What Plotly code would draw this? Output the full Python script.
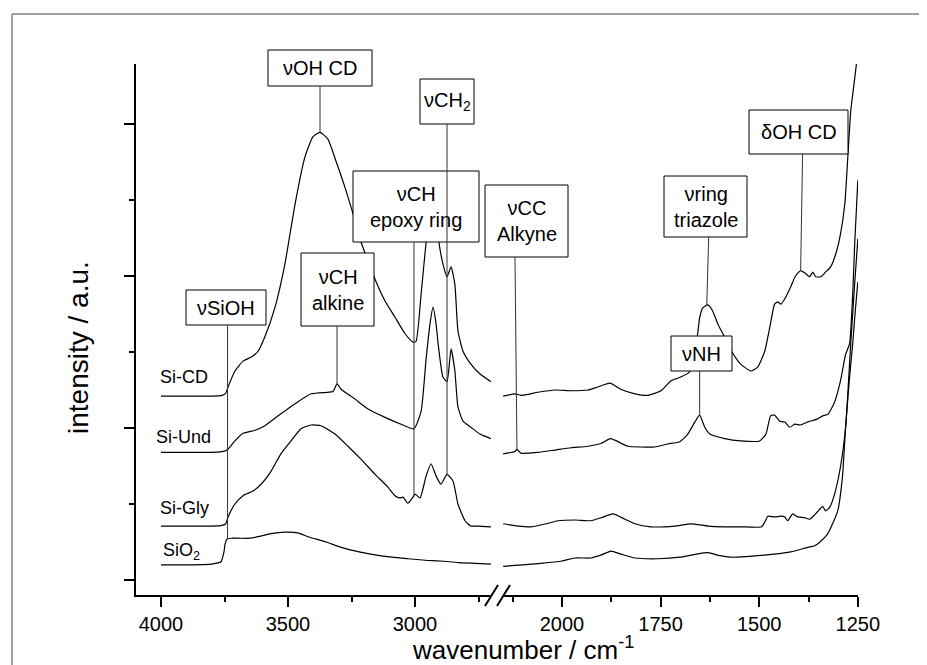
import numpy as np
import plotly.graph_objects as go

# ---------------- data ----------------
# wavenumber (cm-1) / stacked intensity (a.u.); "hi" = 4000-2700 window, "lo" = 2150-1250 window
sicd_wn_hi = [4000, 3900, 3800, 3760, 3745, 3736, 3709, 3677, 3646, 3618, 3591, 3551, 3512, 3472, 3433,
              3402, 3374, 3343, 3311, 3276, 3244, 3213, 3185, 3154, 3118, 3079, 3039, 3008, 2996, 2976,
              2957, 2941, 2929, 2917, 2906, 2890, 2874, 2858, 2843, 2831, 2811, 2780, 2744, 2701]
sicd_int_hi = [2.42, 2.42, 2.42, 2.43, 2.46, 2.54, 2.75, 2.88, 2.93, 3.01, 3.20, 3.59, 4.16, 4.95, 5.57,
               5.83, 5.89, 5.80, 5.51, 5.17, 4.82, 4.45, 4.20, 3.93, 3.67, 3.46, 3.24, 3.13, 3.14, 3.76,
               4.42, 4.85, 5.14, 4.90, 4.45, 4.16, 3.99, 4.12, 3.89, 3.28, 3.01, 2.84, 2.71, 2.61]
sicd_wn_lo = [2149, 2119, 2104, 2061, 2018, 1977, 1934, 1909, 1878, 1851, 1815, 1782, 1749, 1724, 1699,
              1676, 1656, 1651, 1643, 1630, 1618, 1605, 1592, 1570, 1547, 1521, 1504, 1486, 1473, 1461,
              1453, 1445, 1435, 1420, 1408, 1395, 1382, 1372, 1364, 1357, 1344, 1332, 1319, 1306, 1294,
              1283, 1276, 1268, 1263, 1253, 1250]
sicd_int_lo = [2.42, 2.45, 2.43, 2.47, 2.50, 2.49, 2.50, 2.54, 2.59, 2.51, 2.45, 2.43, 2.49, 2.62, 2.67,
               2.74, 3.24, 3.45, 3.58, 3.62, 3.54, 3.37, 3.24, 3.01, 2.84, 2.75, 2.80, 3.01, 3.33, 3.63,
               3.66, 3.63, 3.70, 3.86, 4.00, 4.07, 4.03, 3.99, 4.05, 3.99, 3.99, 4.05, 4.12, 4.29, 4.55,
               4.95, 5.51, 6.17, 6.39, 6.82, 7.10]

siund_wn_hi = [4000, 3900, 3800, 3760, 3745, 3736, 3709, 3677, 3630, 3591, 3539, 3472, 3409, 3343, 3323,
               3307, 3291, 3236, 3185, 3118, 3055, 3004, 2976, 2957, 2941, 2929, 2917, 2909, 2890, 2874,
               2858, 2843, 2831, 2811, 2780, 2744, 2701]
siund_int_hi = [1.68, 1.68, 1.68, 1.69, 1.70, 1.72, 1.83, 1.93, 1.97, 2.03, 2.16, 2.32, 2.45, 2.47, 2.48,
                2.58, 2.51, 2.38, 2.25, 2.14, 2.05, 1.99, 2.22, 2.88, 3.37, 3.59, 3.37, 3.11, 2.67, 2.61,
                3.04, 2.75, 2.28, 2.09, 2.01, 1.92, 1.86]
siund_wn_lo = [2149, 2119, 2114, 2104, 2061, 2018, 1977, 1934, 1900, 1878, 1866, 1833, 1800, 1765, 1732,
               1701, 1681, 1663, 1651, 1638, 1625, 1587, 1547, 1499, 1483, 1471, 1461, 1448, 1435, 1423,
               1410, 1395, 1377, 1352, 1339, 1326, 1309, 1294, 1281, 1271, 1263, 1258, 1250]
siund_int_lo = [1.66, 1.69, 1.72, 1.67, 1.68, 1.71, 1.74, 1.76, 1.80, 1.86, 1.84, 1.76, 1.75, 1.75, 1.79,
                1.82, 1.92, 2.08, 2.17, 2.01, 1.92, 1.86, 1.83, 1.83, 1.92, 2.16, 2.17, 2.09, 2.08, 2.01,
                2.05, 2.04, 2.08, 2.12, 2.16, 2.18, 2.34, 2.62, 2.97, 3.11, 3.76, 4.42, 5.26]

sigly_wn_hi = [4000, 3900, 3800, 3760, 3745, 3736, 3709, 3677, 3638, 3606, 3567, 3528, 3488, 3449, 3409,
               3370, 3315, 3264, 3213, 3157, 3106, 3079, 3059, 3047, 3028, 3008, 3000, 2980, 2957, 2937,
               2917, 2898, 2874, 2850, 2831, 2803, 2780, 2752, 2701]
sigly_int_hi = [0.71, 0.71, 0.71, 0.72, 0.74, 0.83, 1.00, 1.11, 1.17, 1.26, 1.43, 1.66, 1.83, 1.99, 2.04,
                2.03, 1.92, 1.76, 1.59, 1.39, 1.22, 1.11, 1.08, 1.09, 1.01, 1.09, 1.13, 1.08, 1.36, 1.53,
                1.37, 1.26, 1.39, 1.30, 1.00, 0.78, 0.71, 0.71, 0.70]
sigly_wn_lo = [2149, 2111, 2078, 2040, 2010, 1967, 1927, 1900, 1871, 1840, 1815, 1775, 1714, 1673, 1630,
               1587, 1547, 1494, 1486, 1478, 1461, 1445, 1435, 1428, 1415, 1402, 1385, 1372, 1359, 1347,
               1339, 1332, 1321, 1309, 1294, 1281, 1268, 1258, 1250]
sigly_int_lo = [0.74, 0.71, 0.70, 0.74, 0.78, 0.79, 0.78, 0.82, 0.87, 0.80, 0.74, 0.70, 0.71, 0.74, 0.71,
                0.70, 0.70, 0.70, 0.76, 0.84, 0.83, 0.84, 0.83, 0.78, 0.87, 0.83, 0.82, 0.80, 0.86, 0.93,
                0.97, 0.91, 0.96, 1.13, 1.49, 2.01, 3.11, 3.90, 4.49]

sio2_wn_hi = [4000, 3900, 3800, 3764, 3752, 3748, 3740, 3720, 3697, 3650, 3618, 3567, 3512, 3461, 3421,
              3350, 3291, 3220, 3157, 3090, 3028, 2960, 2898, 2830, 2764, 2701]
sio2_int_hi = [0.20, 0.20, 0.21, 0.24, 0.37, 0.47, 0.54, 0.55, 0.55, 0.55, 0.57, 0.61, 0.63, 0.62, 0.57,
               0.50, 0.43, 0.37, 0.33, 0.30, 0.28, 0.26, 0.25, 0.23, 0.22, 0.21]
sio2_wn_lo = [2149, 2100, 2053, 2000, 1967, 1927, 1900, 1876, 1850, 1815, 1757, 1700, 1660, 1630, 1600,
              1572, 1504, 1420, 1377, 1359, 1344, 1326, 1301, 1289, 1281, 1271, 1263, 1256, 1250]
sio2_int_lo = [0.18, 0.20, 0.22, 0.25, 0.29, 0.29, 0.33, 0.38, 0.34, 0.29, 0.28, 0.30, 0.34, 0.36, 0.32,
               0.30, 0.32, 0.37, 0.43, 0.45, 0.51, 0.61, 0.91, 1.36, 2.01, 2.67, 3.11, 3.57, 3.92]

sample_names = ["Si-CD", "Si-Und", "Si-Gly", "SiO<sub>2</sub>"]
sample_label_wn = [3909, 3913, 3909, 3921]
sample_label_int = [2.67, 1.88, 0.95, 0.38]

x_ticks_hi = [4000, 3500, 3000]
x_minor_hi = [3750, 3250, 2750]
x_ticks_lo = [2000, 1750, 1500, 1250]
x_minor_lo = [2125, 1875, 1625, 1375]
y_ticks = [0, 2, 4, 6]
y_minor = [1, 3, 5]

# band assignments: text, box (left, right, top, bottom in px), window, leader top wn, leader end wn, sample
bands = [
    ("νOH CD",              (260, 364, 46, 82),   "hi", 3374, 3374, "Si-CD"),
    ("νSiOH",               (178, 258, 286, 321), "hi", 3738, 3738, "SiO2"),
    ("νCH<br>alkine",       (293, 366, 249, 322), "hi", 3307, 3307, "Si-Und"),
    ("νCH<br>epoxy ring",   (345, 471, 167, 238), "hi", 3004, 3004, "Si-Gly"),
    ("νCH<sub>2</sub>",     (412, 466, 75, 120),  "hi", 2874, 2874, "Si-Gly"),
    ("νCC<br>Alkyne",       (477, 560, 181, 253), "lo", 2119, 2114, "Si-Und"),
    ("νring<br>triazole",   (656, 739, 172, 233), "lo", 1628, 1633, "Si-CD"),
    ("νNH",                 (663, 724, 332, 367), "lo", 1651, 1651, "Si-Und"),
    ("δOH CD",              (741, 840, 106, 150), "lo", 1390, 1395, "Si-CD"),
]

# ---------------- layout geometry ----------------
W, H = 927, 665
DY = -4                       # small global vertical shift of the drawing
ML, MR, MT, MB = 128, 77, 60 + DY, 74 - DY
PW, PH = W - ML - MR, H - MT - MB
FONT = "Liberation Sans, Arial, sans-serif"

ranges = {"hi": [4098.4, 2700.8], "lo": [2149.4, 1249.6]}
domains = {"hi": [0.0, 355 / PW], "lo": [367 / PW, 1.0]}
Y_RANGE = [-0.197, 6.789]

def fx(px):
    return (px - ML) / PW

def fy(py, shift=True):
    return (H - MB - (py + (DY if shift else 0))) / PH

def xpaper(wn, side):
    (r0, r1), (d0, d1) = ranges[side], domains[side]
    return d0 + (wn - r0) / (r1 - r0) * (d1 - d0)

def ypaper(v):
    return (v - Y_RANGE[0]) / (Y_RANGE[1] - Y_RANGE[0])

data = {
    "Si-CD": {"hi": (sicd_wn_hi, sicd_int_hi), "lo": (sicd_wn_lo, sicd_int_lo)},
    "Si-Und": {"hi": (siund_wn_hi, siund_int_hi), "lo": (siund_wn_lo, siund_int_lo)},
    "Si-Gly": {"hi": (sigly_wn_hi, sigly_int_hi), "lo": (sigly_wn_lo, sigly_int_lo)},
    "SiO2": {"hi": (sio2_wn_hi, sio2_int_hi), "lo": (sio2_wn_lo, sio2_int_lo)},
}

fig = go.Figure()
for name, segs in data.items():
    for side, axis in (("hi", "x"), ("lo", "x2")):
        wn, val = segs[side]
        fig.add_trace(go.Scatter(
            x=wn, y=val, xaxis=axis, yaxis="y", mode="lines", name=name,
            line=dict(color="black", width=1.2, shape="spline", smoothing=0.5),
            showlegend=False, hoverinfo="skip"))

axis_common = dict(showline=True, linecolor="black", linewidth=2, showgrid=False, zeroline=False,
                   ticks="outside", ticklen=10, tickwidth=2, tickcolor="black",
                   tickfont=dict(family=FONT, size=20, color="black"), anchor="y")
fig.update_layout(
    width=W, height=H, margin=dict(l=ML, r=MR, t=MT, b=MB),
    paper_bgcolor="white", plot_bgcolor="white", showlegend=False,
    font=dict(family=FONT, color="black"),
    xaxis=dict(domain=domains["hi"], range=ranges["hi"], tickmode="array", tickvals=x_ticks_hi,
               minor=dict(tickmode="array", tickvals=x_minor_hi, ticks="outside", ticklen=5,
                          tickwidth=2, tickcolor="black"), **axis_common),
    xaxis2=dict(domain=domains["lo"], range=ranges["lo"], tickmode="array", tickvals=x_ticks_lo,
                minor=dict(tickmode="array", tickvals=x_minor_lo, ticks="outside", ticklen=5,
                           tickwidth=2, tickcolor="black"), **axis_common),
    yaxis=dict(domain=[0, 1], range=Y_RANGE, anchor="x", showline=True, linecolor="black", linewidth=2,
               showgrid=False, zeroline=False, ticks="outside", ticklen=10, tickwidth=2,
               tickcolor="black", tickmode="array", tickvals=y_ticks, showticklabels=False,
               minor=dict(tickmode="array", tickvals=y_minor, ticks="outside", ticklen=5,
                          tickwidth=2, tickcolor="black")),
)

shapes = []
annotations = []

# band boxes, then leader lines (drawn on top)
leaders = []
for text, (bx0, bx1, by0, by1), side, wtop, wend, sample in bands:
    shapes.append(dict(type="rect", xref="paper", yref="paper", x0=fx(bx0), x1=fx(bx1),
                       y0=fy(by1), y1=fy(by0), fillcolor="white",
                       line=dict(color="black", width=1), layer="above"))
    annotations.append(dict(text=text, xref="paper", yref="paper", x=fx((bx0 + bx1) / 2),
                            y=fy((by0 + by1) / 2), xanchor="center", yanchor="middle",
                            showarrow=False, align="center",
                            font=dict(family=FONT, size=20, color="black")))
    wn, val = data[sample][side]
    vend = float(np.interp(wend, wn[::-1], val[::-1]))
    leaders.append(dict(type="line", xref="paper", yref="paper", x0=xpaper(wtop, side), y0=fy(by1),
                        x1=xpaper(wend, side), y1=ypaper(vend),
                        line=dict(color="#333333", width=1), layer="above"))
shapes += leaders

# axis break marks
for sx0, sx1 in ((477, 490), (489, 502)):
    shapes.append(dict(type="line", xref="paper", yref="paper", x0=fx(sx0), y0=fy(602),
                       x1=fx(sx1), y1=fy(581), line=dict(color="black", width=2)))

# outer frame (top and left edges visible)
shapes.append(dict(type="line", xref="paper", yref="paper", x0=fx(4), y0=fy(6, False), x1=fx(W + 5),
                   y1=fy(6, False), line=dict(color="#808080", width=1.5)))
shapes.append(dict(type="line", xref="paper", yref="paper", x0=fx(4), y0=fy(6, False), x1=fx(4),
                   y1=fy(H + 5, False), line=dict(color="#808080", width=1.5)))

# sample labels
for name, wn, v in zip(sample_names, sample_label_wn, sample_label_int):
    annotations.append(dict(text=name, xref="x", yref="y", x=wn, y=v, xanchor="center",
                            yanchor="middle", showarrow=False,
                            font=dict(family=FONT, size=18, color="black")))

# axis titles
annotations.append(dict(text="wavenumber / cm<sup>-1</sup>", xref="paper", yref="paper",
                        x=fx(402), y=fy(640, False), xanchor="left", yanchor="middle", showarrow=False,
                        font=dict(family=FONT, size=26, color="black")))
annotations.append(dict(text="intensity / a.u.", xref="paper", yref="paper", x=fx(70), y=fy(344),
                        xanchor="center", yanchor="middle", textangle=-90, showarrow=False,
                        font=dict(family=FONT, size=28, color="black")))

fig.update_layout(shapes=shapes, annotations=annotations)
fig.write_html("out.html")
